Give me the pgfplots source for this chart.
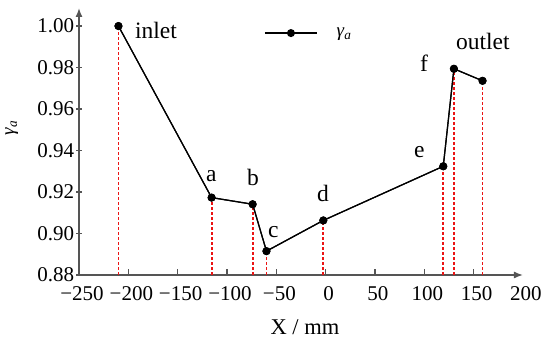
\documentclass[border=0pt]{standalone}
\usepackage{pgfplots}
\pgfplotsset{compat=1.18}
\usepackage{fontspec}
\setmainfont{Liberation Serif}
\usetikzlibrary{arrows.meta}
\definecolor{axgray}{HTML}{555555}
\definecolor{dashred}{RGB}{235,20,20}
\begin{document}
\begin{tikzpicture}[x=1pt,y=1pt]
\path[use as bounding box] (-79,-69) rectangle (471,275);
\begin{axis}[
  at={(0,0)}, anchor=south west,
  scale only axis, width=444pt, height=267pt,
  xmin=-250, xmax=200, ymin=0.88, ymax=1.0087,
  axis lines=left,
  axis line style={draw=axgray, line width=1.4pt, -{Latex[length=9pt,width=7pt]}},
  xtick={-250,-200,-150,-100,-50,0,50,100,150},
  xticklabels={−250,−200,−150,−100,−50,0,50,100,150},
  extra x ticks={200}, extra x tick labels={200},
  extra x tick style={major tick length=0pt},
  ytick={0.88,0.90,0.92,0.94,0.96,0.98,1.00},
  yticklabels={0.88,0.90,0.92,0.94,0.96,0.98,1.00},
  xtick align=inside, ytick align=center,
  major tick length=5.5pt,
  tick style={draw=axgray, line width=1.1pt},
  tick label style={font=\fontsize{21}{24}\selectfont, text=black},
  xticklabel style={yshift=-8pt, xshift=3pt},
  yticklabel style={xshift=1.5pt},
  xlabel={X / mm},
  ylabel={\textit{γ}\textsubscript{\textit{a}}},
  xlabel style={font=\fontsize{22.5}{26}\selectfont, at={(axis description cs:0.509,-0.195)}, anchor=center},
  ylabel style={font=\fontsize{19}{21}\selectfont, at={(axis description cs:-0.146,0.551)}, anchor=base},
  legend style={draw=none, fill=none, at={(rel axis cs:0.417,0.906)}, anchor=west,
    font=\fontsize{19}{21}\selectfont, inner sep=0pt},
  legend cell align=left,
  legend image code/.code={\draw[mark repeat=2,mark phase=2] plot coordinates {(0pt,0pt) (26pt,0pt) (52pt,0pt)};},
  clip=true,
]
\addplot[black, line width=1.2pt, mark=*, mark size=3.4pt] coordinates {
  (-210,1.000) (-115.6,0.9173) (-74,0.9141) (-60,0.8915) (-2.4,0.9063)
  (119.2,0.9324) (130,0.9794) (159,0.9736)};
\addlegendentry{\hspace{17pt}\textit{γ}\textsubscript{\textit{a}}}
\pgfplotsset{every axis plot/.append style={forget plot}}
\addplot[dashred, line width=1.8pt, dash pattern=on 3pt off 2pt] coordinates {(-210,0.88) (-210,1.000)};
\addplot[dashred, line width=1.8pt, dash pattern=on 3pt off 2pt] coordinates {(-115.6,0.88) (-115.6,0.9173)};
\addplot[dashred, line width=1.8pt, dash pattern=on 3pt off 2pt] coordinates {(-74,0.88) (-74,0.9141)};
\addplot[dashred, line width=1.8pt, dash pattern=on 3pt off 2pt] coordinates {(-60,0.88) (-60,0.8915)};
\addplot[dashred, line width=1.8pt, dash pattern=on 3pt off 2pt] coordinates {(-2.4,0.88) (-2.4,0.9063)};
\addplot[dashred, line width=1.8pt, dash pattern=on 3pt off 2pt] coordinates {(119.2,0.88) (119.2,0.9324)};
\addplot[dashred, line width=1.8pt, dash pattern=on 3pt off 2pt] coordinates {(130,0.88) (130,0.9794)};
\addplot[dashred, line width=1.8pt, dash pattern=on 3pt off 2pt] coordinates {(159,0.88) (159,0.9736)};
\addplot[black, line width=1.2pt, mark=*, mark size=3.4pt] coordinates {
  (-210,1.000) (-115.6,0.9173) (-74,0.9141) (-60,0.8915) (-2.4,0.9063)
  (119.2,0.9324) (130,0.9794) (159,0.9736)};
\begin{scope}[every node/.style={inner sep=0pt, anchor=base west, font=\fontsize{23.5}{28}\selectfont}]
\node at (axis cs:-193.3,0.9942) {inlet};
\node at (axis cs:132,0.9889) {outlet};
\node at (axis cs:95.5,0.9783) {f};
\node at (axis cs:89.4,0.9367) {e};
\node at (axis cs:-121.3,0.9253) {a};
\node at (axis cs:-79.8,0.9229) {b};
\node at (axis cs:-58.5,0.8983) {c};
\node at (axis cs:-8.9,0.9152) {d};
\end{scope}
\end{axis}
\end{tikzpicture}
\end{document}
